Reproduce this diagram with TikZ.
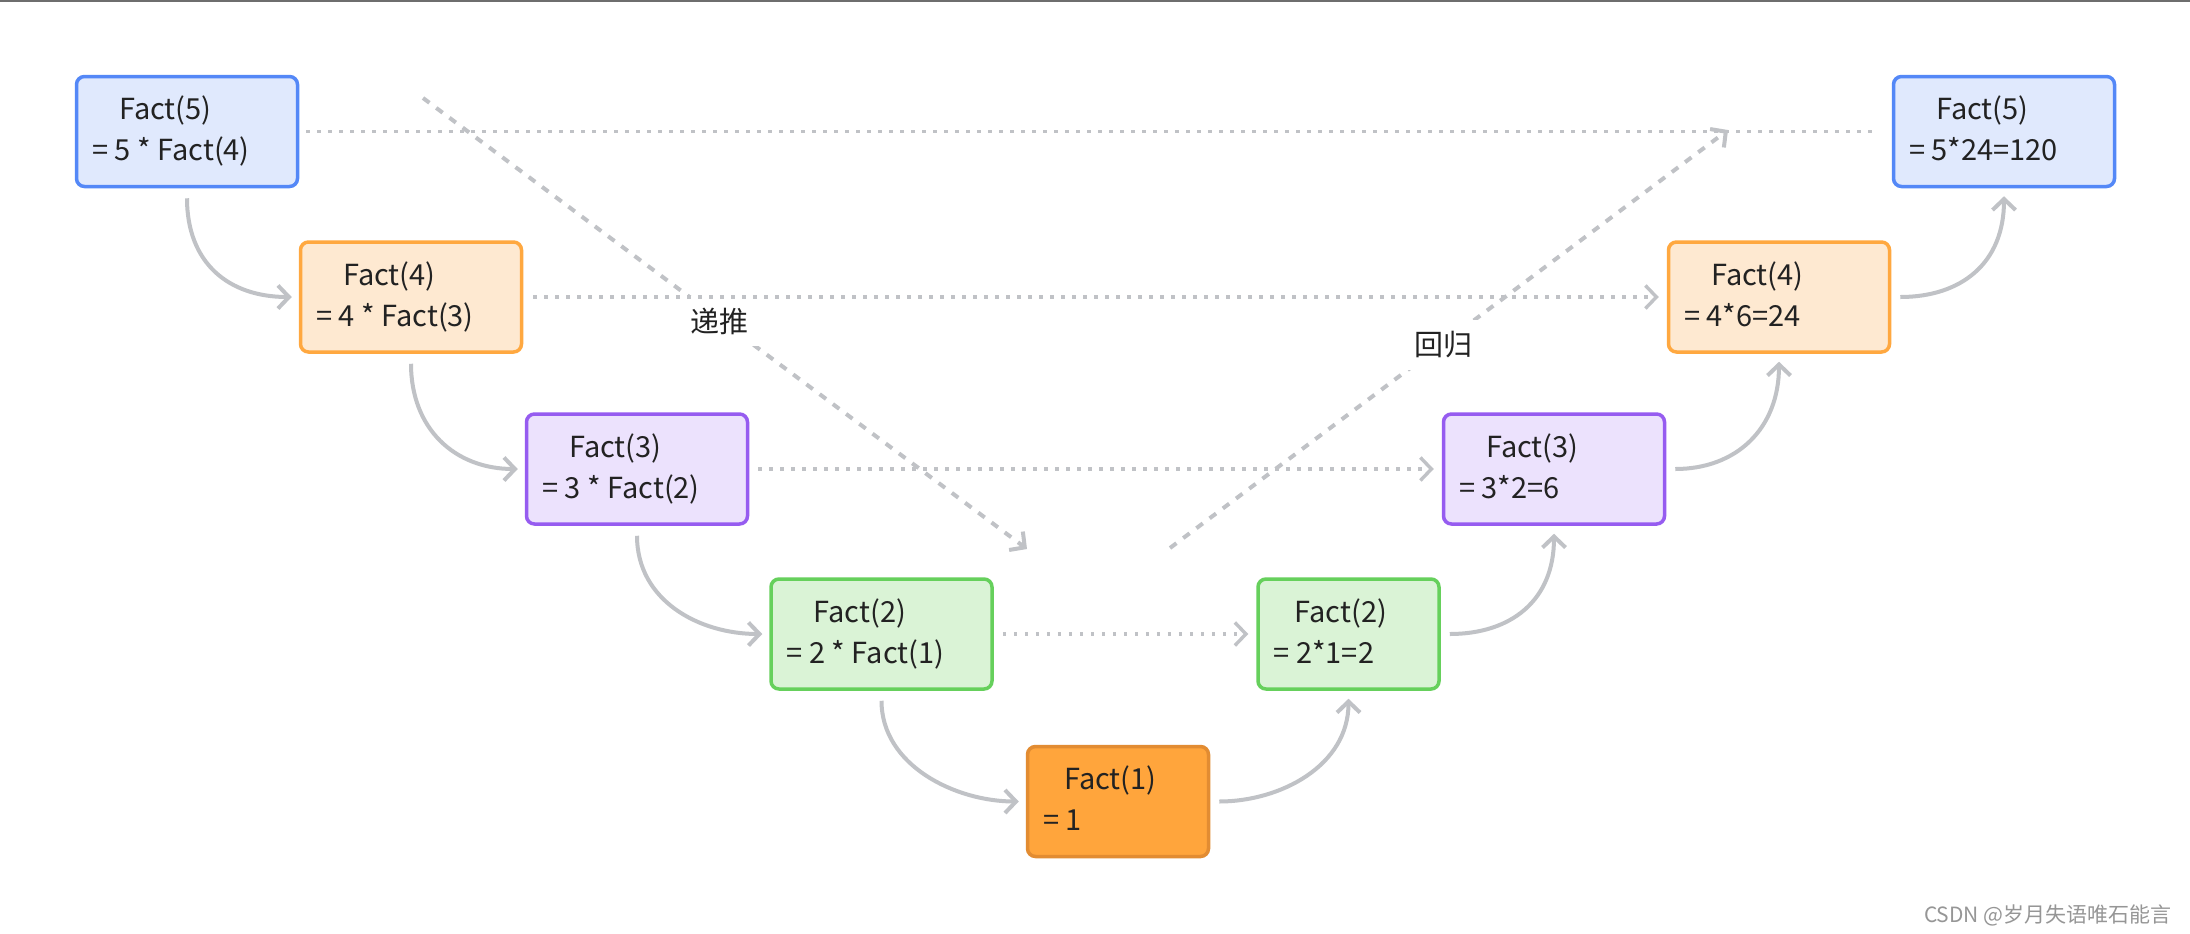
\documentclass[tikz,border=0pt]{standalone}
\usepackage{fontspec}
\setmainfont{Noto Sans CJK SC}
\usetikzlibrary{arrows.meta,calc}
\definecolor{blueB}{RGB}{84,136,247}
\definecolor{blueF}{RGB}{224,233,253}
\definecolor{orB}{RGB}{255,168,64}
\definecolor{orF}{RGB}{254,233,209}
\definecolor{puB}{RGB}{150,92,240}
\definecolor{puF}{RGB}{236,226,253}
\definecolor{grB}{RGB}{102,208,92}
\definecolor{grF}{RGB}{218,243,214}
\definecolor{oneF}{RGB}{255,165,60}
\definecolor{oneB}{RGB}{226,140,50}
\definecolor{conn}{RGB}{192,194,198}
\definecolor{txt}{RGB}{34,34,34}
\definecolor{wm}{RGB}{150,150,150}
\begin{document}
\begin{tikzpicture}[x=0.5pt,y=-0.5pt,
  box/.style={draw, rounded corners=4pt, line width=1.75pt, minimum width=110.5pt, minimum height=55pt, inner sep=0pt},
  sbox/.style={box, minimum width=90.5pt},
  bl/.style={box, draw=blueB, fill=blueF},
  orb/.style={box, draw=orB, fill=orF},
  pub/.style={box, draw=puB, fill=puF},
  grb/.style={sbox, draw=grB, fill=grF},
  oneb/.style={sbox, draw=oneB, fill=oneF},
  tx/.style={anchor=base west, inner sep=0pt, text=txt, font=\fontsize{14.5}{17}\selectfont},
  tip/.style={-{Straight Barb[length=5.5pt,width=11.5pt]}},
  curve/.style={draw=conn, line width=2pt, tip},
  dotl/.style={draw=conn, line width=1.7pt, dash pattern=on 1.7pt off 3.8pt},
  dotarrow/.style={dotl, tip},
  dashl/.style={draw=conn, line width=2pt, dash pattern=on 4pt off 4.25pt, tip},
  lbl/.style={fill=white, inner sep=6pt, text=txt, font=\fontsize{14.5}{17}\selectfont}
]
\useasboundingbox (0,0) rectangle (2190,933);
\fill[white] (0,0) rectangle (2190,933);
\draw[line width=1pt, draw={rgb,255:red,110;green,110;blue,110}] (0,1) -- (2190,1);

% boxes
\node[bl]  (L5) at (187,131.5) {};
\node[orb] (L4) at (411,297) {};
\node[pub] (L3) at (637,469) {};
\node[grb, minimum width=110.5pt] (L2) at (881.5,634) {};
\node[oneb] (L1) at (1118,801.5) {};
\node[grb] (R2) at (1348.5,634) {};
\node[pub] (R3) at (1554,469) {};
\node[orb] (R4) at (1779,297) {};
\node[bl]  (R5) at (2004,131.5) {};

% texts
\node[tx] (L5a) at ($(L5.north west)+(44,45)$) {Fact(5)};
\node[tx] (L5b) at ($(L5.north west)+(17,86)$) {= 5 * Fact(4)};
\node[tx] (L4a) at ($(L4.north west)+(44,45)$) {Fact(4)};
\node[tx] (L4b) at ($(L4.north west)+(17,86)$) {= 4 * Fact(3)};
\node[tx] (L3a) at ($(L3.north west)+(44,45)$) {Fact(3)};
\node[tx] (L3b) at ($(L3.north west)+(17,86)$) {= 3 * Fact(2)};
\node[tx] (L2a) at ($(L2.north west)+(44,45)$) {Fact(2)};
\node[tx] (L2b) at ($(L2.north west)+(17,86)$) {= 2 * Fact(1)};
\node[tx] (L1a) at ($(L1.north west)+(38,45)$) {Fact(1)};
\node[tx] (L1b) at ($(L1.north west)+(17,86)$) {= 1};
\node[tx] (R2a) at ($(R2.north west)+(38,45)$) {Fact(2)};
\node[tx] (R2b) at ($(R2.north west)+(17,86)$) {= 2*1=2};
\node[tx] (R3a) at ($(R3.north west)+(44,45)$) {Fact(3)};
\node[tx] (R3b) at ($(R3.north west)+(17,86)$) {= 3*2=6};
\node[tx] (R4a) at ($(R4.north west)+(44,45)$) {Fact(4)};
\node[tx] (R4b) at ($(R4.north west)+(17,86)$) {= 4*6=24};
\node[tx] (R5a) at ($(R5.north west)+(44,45)$) {Fact(5)};
\node[tx] (R5b) at ($(R5.north west)+(17,86)$) {= 5*24=120};

% diagonal dashed arrows with labels
\coordinate (dA) at (423,98);
\coordinate (dB) at (1027,549);
\coordinate (hA) at (1170,548);
\coordinate (hB) at (1728,130);
\draw[dashl] (dA) -- (dB);
\draw[dashl] (hA) -- (hB);
\node[lbl] (ditui) at (719,321) {递推};
\node[lbl] (huigui) at (1443,345) {回归};

% dotted horizontal lines
\draw[dotl] ($(L5.east)+(7,0)$) -- ($(R5.west)+(-14,0)$);
\draw[dotarrow] ($(L4.east)+(10,0)$) -- ($(R4.west)+(-8,0)$);
\draw[dotarrow] ($(L3.east)+(9,0)$) -- ($(R3.west)+(-8,0)$);
\draw[dotarrow] ($(L2.east)+(9,0)$) -- ($(R2.west)+(-8,0)$);

% curved descending arrows
\foreach \a/\b in {L5/L4, L4/L3, L3/L2, L2/L1}{
  \draw[curve] ($(\a.south)+(0,10)$) .. controls ($(\a.south)+(0,75)$) and ($(\b.west)+(-70,0)$) .. ($(\b.west)+(-7,0)$);
}
% curved ascending arrows
\foreach \a/\b in {L1/R2, R2/R3, R3/R4, R4/R5}{
  \draw[curve] ($(\a.east)+(9,0)$) .. controls ($(\a.east)+(70,0)$) and ($(\b.south)+(0,75)$) .. ($(\b.south)+(0,8)$);
}

% watermark
\node[anchor=east, inner sep=0pt, text=wm, font=\fontsize{10.5}{12}\selectfont] (wmk) at (2172,915) {CSDN @岁月失语唯石能言};
\end{tikzpicture}
\end{document}
